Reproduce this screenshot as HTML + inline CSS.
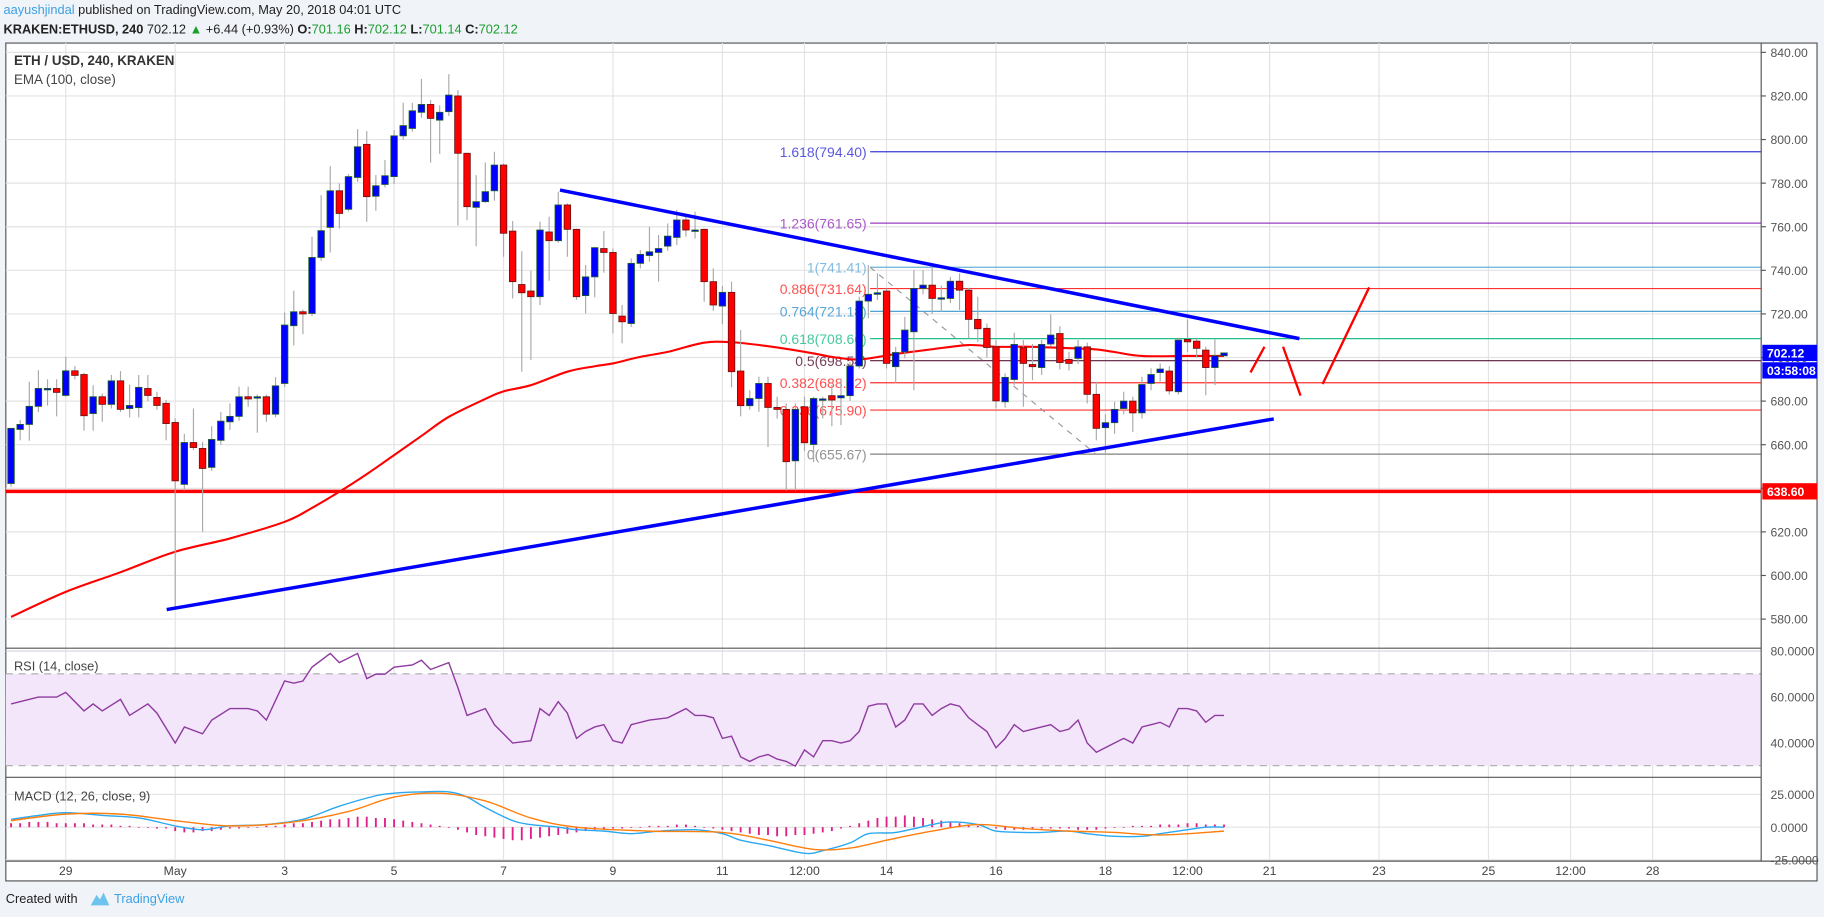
<!DOCTYPE html>
<html><head><meta charset="utf-8">
<style>
html,body{margin:0;padding:0;background:#f0f3f7;}
svg{display:block;font-family:"Liberation Sans",sans-serif;}
</style></head>
<body>
<svg id="chart" width="1824" height="917" viewBox="0 0 1568 788" preserveAspectRatio="none" xmlns="http://www.w3.org/2000/svg">
<rect x="0" y="0" width="1568" height="788" fill="#f0f3f7"/>
<g font-size="11">
<text x="3" y="12"><tspan fill="#3ba1e6">aayushjindal</tspan><tspan fill="#222"> published on TradingView.com, May 20, 2018 04:01 UTC</tspan></text>
<text x="3" y="29" fill="#222"><tspan font-weight="bold">KRAKEN:ETHUSD, 240</tspan><tspan> 702.12 </tspan><tspan fill="#1a9e2c">▲</tspan><tspan> +6.44 (+0.93%) </tspan><tspan font-weight="bold">O:</tspan><tspan fill="#1a9e2c">701.16 </tspan><tspan font-weight="bold">H:</tspan><tspan fill="#1a9e2c">702.12 </tspan><tspan font-weight="bold">L:</tspan><tspan fill="#1a9e2c">701.14 </tspan><tspan font-weight="bold">C:</tspan><tspan fill="#1a9e2c">702.12</tspan></text>
</g>
<rect x="5" y="37" width="1557" height="720" fill="#fff" stroke="#555" stroke-width="1"/>
<g id="grid"></g>
<rect x="5" y="579" width="1509" height="79" fill="#f3e6fb"/>
<line x1="5" y1="579" x2="1514" y2="579" stroke="#aaa" stroke-dasharray="6,5"/>
<line x1="5" y1="658" x2="1514" y2="658" stroke="#aaa" stroke-dasharray="6,5"/>
<g id="marks"></g>
<line x1="5" y1="557" x2="1514" y2="557" stroke="#555"/>
<line x1="5" y1="668" x2="1514" y2="668" stroke="#555"/>
<line x1="5" y1="740" x2="1562" y2="740" stroke="#555"/>
<line x1="1514" y1="37" x2="1514" y2="740" stroke="#555"/>
<g font-size="11.5" fill="#333">
<text x="12" y="56" font-weight="bold">ETH / USD, 240, KRAKEN</text>
<text x="12" y="72" fill="#444">EMA (100, close)</text>
<text x="12" y="576" fill="#444" font-size="11">RSI (14, close)</text>
<text x="12" y="688" fill="#444" font-size="11">MACD (12, 26, close, 9)</text>
</g>
<g font-size="11">
<text x="5" y="776" fill="#222">Created with</text>
<path d="M78 778 l5 -9 l3 4 l3 -6 l5 11 z" fill="#6cc4ee"/>
<text x="98" y="776" fill="#3ba1e6">TradingView</text>
</g>
</svg>
<script>
const opens=[642.2,667,669.3,677.6,685.8,685.8,682.6,693.9,692.2,674.3,682,678.5,689.3,676.6,677,685.8,681.7,679,670.2,641.8,661,658.3,649.6,662,670.5,673,682,682,682,674,688.1,714.6,721,720.2,745.9,759.7,776.5,768,782.6,797.8,774,779.4,783,801.7,805.1,812.5,816.1,808.9,812.8,820,793.7,768.9,771.5,776.5,788.3,758,733.5,730.5,727.9,757.6,753.6,770,758.8,728.4,737,750,748.2,719,715.6,743.2,746.8,748.2,751.1,755.1,763.1,758.5,758.8,734.8,723.6,729.9,693.8,677.9,681.2,688.1,677.1,676.2,652.6,677.4,660.1,681,682.5,681.5,682.5,696.1,725.9,729,730.5,695.8,702.6,711.8,731.7,733.2,727.4,727.1,735,730.9,717.5,713.4,704.9,679.7,689.9,704.5,696.8,695.4,706.2,711,699.1,699.6,704.9,683.1,667.8,670.1,676.6,680,674.6,688.1,693.1,693.8,684.3,708.3,707.5,703.4,695.4,700.8];
const highs=[667.5,671.3,688.9,694.2,690,690,700.4,696,693,687.3,683.5,692,693.8,687.6,692,692,684.3,680.5,672,665,676.6,661.3,668.5,675,679,686.6,686.6,683,683,691,720.7,730.6,722,755.4,774.5,787.8,779.9,784.2,804.8,803.9,783.7,790.6,804.4,816.9,816.9,827.8,818.1,815.7,830,822.7,794,783.7,789.5,794.4,789,762.6,748.8,739.8,762.3,764.6,776,770.7,759.2,742.4,750.8,758,750,724.1,745.5,749.3,760,756.2,761.5,767.7,765.4,766.9,759.2,740.9,732.8,734.8,712.6,685,691.2,691.2,682,678.9,678.9,682,682,682,687.3,690.4,698,727.9,742.4,738.6,731.7,704.9,718.7,740.1,740.1,741.7,733,737,738.6,732,727.9,715.6,708,692.7,711.4,708,706.2,708,719.8,714.4,702.6,708,706.8,688.9,674,679.7,684.3,682,691.2,695,697.3,696,709,717.5,708.8,705,708.3,702.1];
const lows=[640.7,662,661.8,675,677.9,673,682,690,666.4,666.4,670.5,676.6,675,672.5,672.5,680,676,662,585,639,657.5,620,648,660,666.7,671,677.4,665.5,670.5,672.6,686.5,705.5,710.7,719,744.4,748.2,759.2,767,780.6,762.3,767.3,778,779.6,799.8,803.6,810,789.4,793.4,810.8,760.5,763,751.1,771,772,746.2,727.1,693.5,698.8,724,735.2,752.7,746.2,726.4,720.2,727.6,738.9,711,706.5,714,740.9,744,734.8,749,751.6,755.4,754.6,725.6,721.5,715.3,686.3,673,676,675.1,659,672,639,639,657,652,672,668.5,669,680,695,718,726.4,695,688.1,699.6,685,729,720,721,725,721.8,708.8,707.2,700,676.6,677,687.3,677.4,689.6,692,705,694.5,694,697,678.9,662,656.3,665,674,665.9,672,685,689,683,683,702.6,700,682.7,687.3,700.8];
const closes=[667.5,669.3,677.6,685.8,685.8,684,693.9,691.8,673.3,682,678.5,689.3,676.2,678,686.3,682.6,678,669.7,643.4,661,658.7,649.1,662.4,670.8,673,682,681,682,674,687,714.9,721,720,745.9,758.2,776.5,766.1,783,796.7,773.8,778.8,783.4,801.7,806.4,813.2,816.1,809.7,812.5,820.4,793.7,769.2,771.5,776.1,788.3,757,734.8,729.7,727.9,758.5,753.6,770,758.8,727.9,737,750.4,748.2,720.2,716.4,743.2,747.3,748.5,750,755.7,763.1,758.5,758.5,734.8,724.1,729.9,693.5,677.9,681.2,688.1,677.1,676.2,652.2,676.2,660.9,681.2,681,680.5,682.5,696.1,725.9,729,729.7,697.3,702.3,712.6,731.7,733.2,727.1,727.4,735,730.9,717.5,713.2,704.6,680.1,690.9,706,697.3,695.8,706,710.3,697.7,697.3,704.9,683.1,667.5,670.1,676.2,680,674.6,687.6,692.2,694.7,684.7,708,707.2,704.2,695.4,700.8,702.1];
const emaIdx=[0,6,12,18,24,30,33,36,39,42,45,48,52,54,57,61,64,66,69,72,76,79,83,88,90,93,97,101,105,108,111,114,116,119,121,124,129,133];
const emaVal=[581,592.5,601.5,610.9,617,624.6,631,638.4,646.5,655.2,664,672.8,681,684.5,687.3,693.5,696,697.3,700.3,702.6,706.8,707,705.2,701.9,700.3,699.1,701.6,703.8,705.7,704.9,705,704.6,704.3,703.7,702.5,700.7,700.7,700.7];
const rsiIdx=[0,3,5,6,8,9,10,12,13,15,16,18,19,21,22,24,26,27,28,30,31,32,33,35,36,38,39,40,41,42,44,45,46,48,49,50,52,53,54,55,57,58,59,60,61,62,63,64,65,66,67,68,70,72,74,75,76,77,78,79,80,81,82,83,84,85,86,87,88,89,90,91,92,93,94,95,96,97,98,99,100,101,102,103,104,105,106,107,108,109,110,111,112,113,114,115,116,117,118,119,120,121,122,123,124,125,126,127,128,129,130,131,132,133];
const rsiVal=[57,60,60,62,54,57,54,59,52,57,53,40,47,44,50,55,55,54,50,67,66,67,73,79,75,79,68,70,70,73,74,76,72,75,64,52,55,48,44,40,41,55,52,58,53,42,45,47,48,41,40,48,50,51,55,52,52,51,42,43,34,32,34,35,33,32,30,37,34,41,41,40,41,45,56,57,57,47,50,57,57,52,55,57,56,51,48,45,38,42,48,45,46,47,48,45,46,50,40,36,38,40,42,40,47,48,49,47,55,55,54,49,52,52];
const macdIdx=[0,3,6,10,14,18,21,24,28,32,36,40,42,45,48,50,52,55,57,60,62,65,68,71,75,78,80,83,87,89,92,94,97,101,103,106,108,111,113,116,118,121,124,126,129,131,133];
const macdVal=[6,9,11,9,7,1,-2,1,2,6,16,24,26,27,27,23,15,5,2,0,-2,-3,-5,-3,-2,-5,-10,-14,-20,-18,-12,-5,-4,2,4,2,-3,-4,-4,-3,-5,-7,-7,-5,-2,0,0];
const sigIdx=[0,6,12,18,24,31,37,42,47,52,57,62,70,78,83,88,92,96,101,106,111,116,121,126,133];
const sigVal=[5,10,10,5,1,4,12,23,26,20,7,0,-3,-4,-10,-17,-16,-10,-3,2,-1,-3,-4,-6,-3];
const histVal=[3,3,4,4,4,3,3,3,3,2,2,2,1,1,0,0,-1,-1,-3,-4,-4,-3,-3,-2,-1,-1,0,0,1,1,2,3,3,4,5,6,6,7,8,8,7,7,6,5,4,3,2,1,0,-2,-4,-6,-7,-8,-9,-10,-10,-9,-8,-7,-6,-5,-4,-3,-2,-2,-1,-1,0,0,1,1,1,2,2,1,0,-1,-2,-3,-4,-5,-6,-6,-7,-7,-6,-6,-5,-4,-3,-1,1,3,5,7,8,8,9,8,7,6,5,4,3,2,1,0,-1,-2,-2,-2,-1,-1,-1,-1,-1,-2,-2,-2,-1,0,0,1,1,1,2,2,2,3,3,2,2,2];
const priceTicks=[840,820,800,780,760,740,720,700,680,660,640,620,600,580];
const rsiTicks=[80,60,40];
const macdTicks=[25,0,-25];
const dateLabels=["29","May","3","5","7","9","11","12:00","14","16","18","12:00","21","23","25","12:00","28"];
const dateDays=[-2,0,2,4,6,8,10,11.5,13,15,17,18.5,20,22,24,25.5,27];
const fibRatios=["1.618","1.236","1","0.886","0.764","0.618","0.5","0.382","0.236","0"];
const fibPrices=[794.40,761.65,741.41,731.64,721.18,708.66,698.54,688.42,675.90,655.67];
const fibColors=["#3b3bd6","#9b3ec0","#6cb0dc","#ff3030","#3a97d0","#22c08a","#5a1a3a","#ff3030","#ff3030","#808080"];

const NS="http://www.w3.org/2000/svg";
const x=i=>9.5+i*7.84;
const xDay=d=>150.6+d*47.04;
const yP=p=>45+(840-p)*1.873;
const yR=v=>559.5+(80-v)*1.975;
const yM=v=>710.8-v*1.124;
const marks=document.getElementById('marks');
const grid=document.getElementById('grid');
function mk(tag,attrs,parent){const e=document.createElementNS(NS,tag);for(const k in attrs)e.setAttribute(k,attrs[k]);(parent||marks).appendChild(e);return e;}
function smooth(idx,val,fy){
 const pts=idx.map((i,k)=>[x(i),fy(val[k])]);
 let d='M'+pts[0][0].toFixed(1)+' '+pts[0][1].toFixed(1);
 for(let k=0;k<pts.length-1;k++){
  const p0=pts[Math.max(0,k-1)],p1=pts[k],p2=pts[k+1],p3=pts[Math.min(pts.length-1,k+2)];
  const c1=[p1[0]+(p2[0]-p0[0])/6,p1[1]+(p2[1]-p0[1])/6];
  const c2=[p2[0]-(p3[0]-p1[0])/6,p2[1]-(p3[1]-p1[1])/6];
  d+='C'+c1[0].toFixed(1)+' '+c1[1].toFixed(1)+' '+c2[0].toFixed(1)+' '+c2[1].toFixed(1)+' '+p2[0].toFixed(1)+' '+p2[1].toFixed(1);
 }
 return d;
}

priceTicks.forEach(p=>{
 const l=mk('line',{x1:5,x2:1514,y1:yP(p),y2:yP(p),stroke:'#e3e3e3'},grid);
 
 
 const t=mk('text',{x:1522,y:yP(p)+4,'font-size':10.5,fill:'#555'});
 t.textContent=p.toFixed(2);
 
 
 mk('line',{x1:1514,x2:1518,y1:yP(p),y2:yP(p),stroke:'#555'});
});
rsiTicks.forEach(v=>{
 mk('line',{x1:5,x2:1514,y1:yR(v),y2:yR(v),stroke:'#d8d0e0'},grid);
 const t=mk('text',{x:1522,y:yR(v)+4,'font-size':10.5,fill:'#555'});
 t.textContent=v.toFixed(4);
 
 
});
macdTicks.forEach(v=>{
 mk('line',{x1:5,x2:1514,y1:yM(v),y2:yM(v),stroke:'#e3e3e3'},grid);
 const t=mk('text',{x:1522,y:yM(v)+4,'font-size':10.5,fill:'#555'});
 t.textContent=v.toFixed(4);
 
 
});
dateLabels.forEach((s,k)=>{
 const xx=xDay(dateDays[k]);
 mk('line',{x1:xx,x2:xx,y1:37,y2:740,stroke:'#e3e3e3'},grid);
 const t=mk('text',{x:xx,y:752,'font-size':10.5,fill:'#444','text-anchor':'middle'});
 t.textContent=s;
 
 
});

fibPrices.forEach((p,k)=>{
 const l=mk('line',{x1:748,x2:1514,y1:yP(p),y2:yP(p),stroke:fibColors[k],'stroke-width':1});
 
 
 const t=mk('text',{x:745,y:yP(p)+4.5,'font-size':12,fill:fibColors[k],'text-anchor':'end','fill-opacity':0.85});
 t.textContent=fibRatios[k]+'('+p.toFixed(2)+')';
 
 
});
const fd=mk('line',{x1:748,y1:yP(fibPrices[2]),x2:942,y2:yP(fibPrices[9]),stroke:'#999','stroke-dasharray':'5,5'});



const sl=mk('line',{x1:5,x2:1514,y1:yP(638.6),y2:yP(638.6),stroke:'#ff0000','stroke-width':3});



const ema=mk('path',{d:smooth(emaIdx,emaVal,yP),fill:'none',stroke:'#ff0000','stroke-width':1.8});



for(let i=0;i<opens.length;i++){
 const up=closes[i]>=opens[i];
 const w=mk('line',{x1:x(i),x2:x(i),y1:yP(highs[i]),y2:yP(lows[i]),stroke:'#aaa','stroke-width':1});
 
 
 const top=yP(Math.max(opens[i],closes[i])),bot=yP(Math.min(opens[i],closes[i]));
 const b=mk('rect',{x:x(i)-2.8,y:top,width:5.6,height:Math.max(1.2,bot-top),fill:up?'#0000ff':'#ff0000',stroke:up?'#1f5a2a':'#6a1010','stroke-width':0.7});
 
 
}

const t1=mk('line',{x1:481.4,y1:163.3,x2:1117,y2:291,stroke:'#0000ff','stroke-width':3});


const t2=mk('line',{x1:143.3,y1:523.8,x2:1095,y2:360,stroke:'#0000ff','stroke-width':3});


[[1075,320,1087,298],[1103,298,1118,340],[1137,330,1177,247]].forEach(s=>{
 const r=mk('line',{x1:s[0],y1:s[1],x2:s[2],y2:s[3],stroke:'#ff0000','stroke-width':2});
 
 
});

let d='';rsiIdx.forEach((i,k)=>{d+=(k?'L':'M')+x(i).toFixed(1)+' '+yR(rsiVal[k]).toFixed(1);});
const rl=mk('path',{d:d,fill:'none',stroke:'#8e3a9e','stroke-width':1.2});



histVal.forEach((v,i)=>{
 const h=mk('rect',{x:x(i)-0.8,y:Math.min(yM(0),yM(v)),width:1.6,height:Math.max(0.6,Math.abs(yM(v)-yM(0))),fill:'#e0208a'});
 
 
});
const ml=mk('path',{d:smooth(macdIdx,macdVal,yM),fill:'none',stroke:'#2aa8f0','stroke-width':1.2});


const sg=mk('path',{d:smooth(sigIdx,sigVal,yM),fill:'none',stroke:'#ff7f0e','stroke-width':1.2});



function marker(p,txt,col,name,dy){
 const r=mk('rect',{x:1515,y:yP(p)-7+dy,width:47,height:14,fill:col});
 
 
 const t=mk('text',{x:1519,y:yP(p)+4+dy,'font-size':10.5,fill:'#fff','font-weight':'bold'});
 t.textContent=txt;
 
 
}
const lastClose=closes[closes.length-1];
marker(lastClose,'702.12','#0000ff','last-price-marker',0);
marker(lastClose,'03:58:08','#0000ff','countdown-marker',15);
marker(638.6,'638.60','#ff0000','support-price-marker',0);
</script>
</body></html>
